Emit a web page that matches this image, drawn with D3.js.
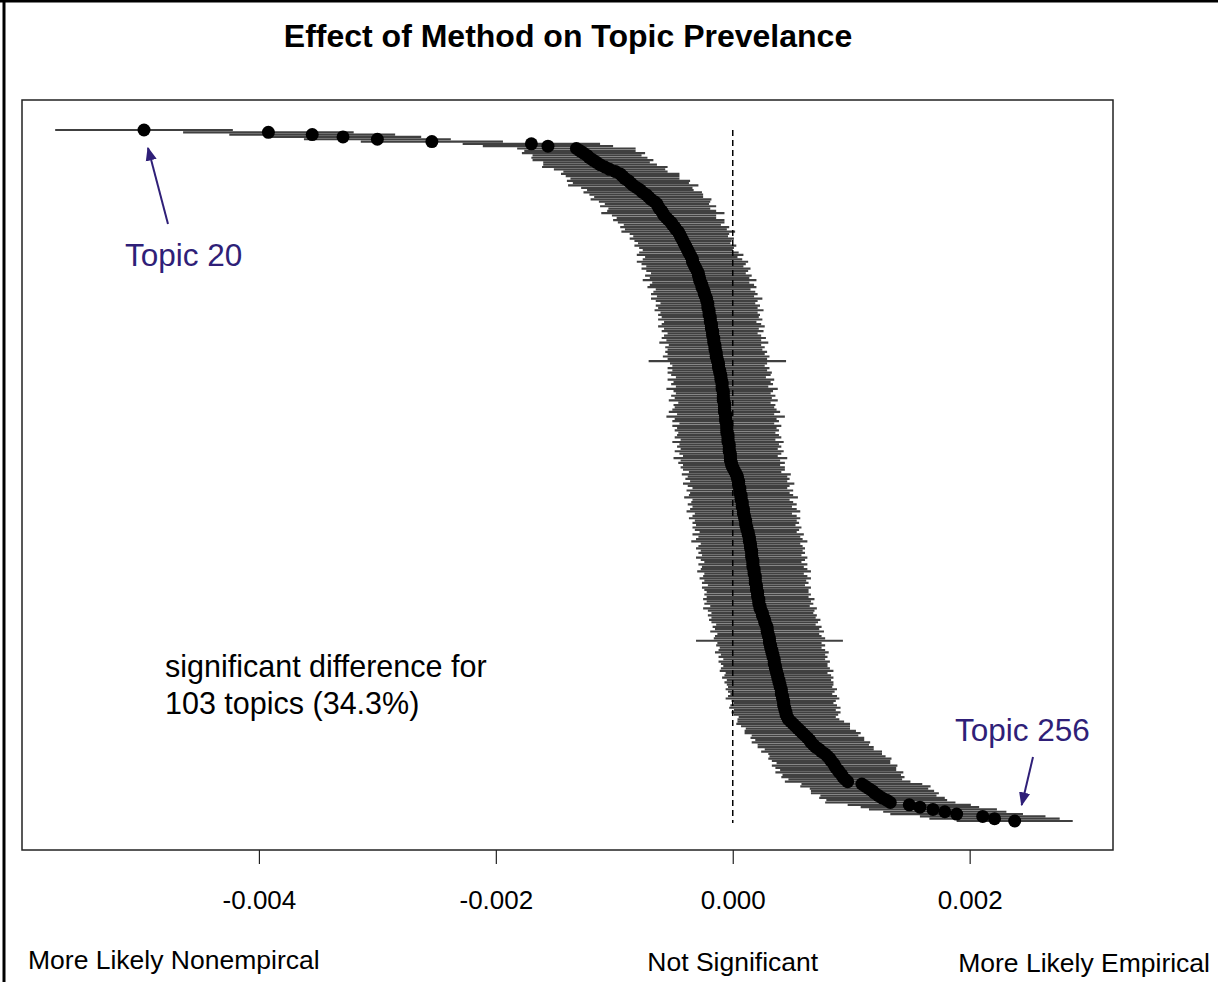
<!DOCTYPE html>
<html>
<head>
<meta charset="utf-8">
<script src="https://cdn.jsdelivr.net/npm/d3@7"></script>
<style>
  html, body { margin: 0; padding: 0; background: #fff; }
  svg { display: block; font-family: "Liberation Sans", Arial, sans-serif; }
</style>
</head>
<body>
<svg id="chart" width="1218" height="982"></svg>
<script>
// Point estimates (units of 0.001), sorted from most negative (top) to most positive (bottom); 300 topics
const estimateMilli = [
  -4.97, -3.92, -3.55, -3.29, -3.00, -2.54, -1.70, -1.56,
  -1.32, -1.29, -1.26, -1.23, -1.21, -1.18, -1.15,
  -1.12, -1.08, -1.04, -0.99, -0.95,
  -0.93, -0.91, -0.88, -0.86, -0.84, -0.81,
  -0.78, -0.76, -0.73, -0.71, -0.69, -0.66, -0.64,
  -0.63, -0.62, -0.60, -0.59, -0.58, -0.56,
  -0.54, -0.52, -0.51, -0.49, -0.48, -0.46, -0.45,
  -0.44, -0.43, -0.42, -0.41, -0.40, -0.39, -0.38, -0.37, -0.36,
  -0.35, -0.34, -0.34, -0.33, -0.32, -0.31, -0.30,
  -0.29, -0.29, -0.28,
  -0.28, -0.27, -0.26, -0.26, -0.25, -0.24, -0.24, -0.23, -0.22,
  -0.22, -0.21, -0.21, -0.21, -0.20, -0.20, -0.20, -0.19, -0.19, -0.19, -0.18, -0.18, -0.18, -0.17,
  -0.17, -0.17, -0.16, -0.16, -0.16, -0.15, -0.15, -0.15, -0.14, -0.14, -0.14, -0.13,
  -0.13, -0.12, -0.12, -0.12, -0.11, -0.11, -0.10, -0.10, -0.10, -0.09,
  -0.09, -0.09, -0.09, -0.08, -0.08, -0.08, -0.08, -0.08, -0.07, -0.07, -0.07, -0.07, -0.07,
  -0.06, -0.06, -0.06, -0.06, -0.05, -0.05, -0.05, -0.05, -0.05, -0.04, -0.04,
  -0.04, -0.04, -0.03, -0.03, -0.03, -0.03, -0.02, -0.02, -0.02, -0.02, -0.01, -0.01,
  0.00, 0.01, 0.02, 0.03, 0.04,
  0.04, 0.05, 0.05, 0.05, 0.06, 0.06, 0.06, 0.07, 0.07, 0.07, 0.08, 0.08,
  0.08, 0.09, 0.09, 0.09, 0.10, 0.10, 0.11, 0.11, 0.11, 0.12, 0.12, 0.13, 0.13, 0.14,
  0.14, 0.14, 0.15, 0.15, 0.15, 0.16, 0.16,
  0.16, 0.16, 0.17, 0.17, 0.17, 0.17, 0.18, 0.18, 0.18, 0.19, 0.19,
  0.19, 0.19, 0.20, 0.20, 0.20, 0.21, 0.21, 0.21, 0.22, 0.22, 0.22, 0.23,
  0.23, 0.24, 0.25, 0.25, 0.26, 0.27, 0.27, 0.28, 0.29,
  0.29, 0.29, 0.30, 0.30, 0.31, 0.31, 0.31, 0.32, 0.32, 0.33, 0.33, 0.34,
  0.34, 0.35, 0.35, 0.35, 0.36, 0.36, 0.37, 0.37, 0.38, 0.38, 0.39, 0.39, 0.40,
  0.40, 0.41, 0.41, 0.41, 0.42, 0.42, 0.43, 0.43, 0.43, 0.44, 0.44, 0.45, 0.45, 0.46,
  0.47, 0.49, 0.51, 0.53, 0.55, 0.57,
  0.59, 0.61, 0.63, 0.65, 0.66, 0.68,
  0.70, 0.73, 0.75, 0.78, 0.80,
  0.82, 0.83, 0.85, 0.86, 0.87, 0.89, 0.90,
  0.92, 0.93, 0.95, 0.97,
  1.09, 1.12, 1.15, 1.18, 1.20, 1.23, 1.26, 1.30, 1.33,
  1.49, 1.58, 1.69, 1.79, 1.89, 2.11, 2.21, 2.38
];

// Half-width of each 95% interval (units of 0.001), same order
const halfWidthMilli = [
  0.75, 0.72, 0.70, 0.66, 0.62, 0.60, 0.58, 0.55,
  0.50, 0.47, 0.52, 0.46, 0.49, 0.51, 0.45, 0.48, 0.53, 0.47, 0.44, 0.50, 0.48, 0.46, 0.52, 0.49, 0.55, 0.47, 0.45, 0.50, 0.48, 0.46, 0.51,
  0.47, 0.44, 0.49, 0.43, 0.46, 0.52, 0.44, 0.42, 0.47, 0.45, 0.41, 0.46, 0.43, 0.48, 0.42, 0.40, 0.44, 0.41, 0.39, 0.43, 0.40, 0.38, 0.42, 0.45, 0.39,
  0.42, 0.47, 0.44, 0.41, 0.46, 0.43, 0.40, 0.45, 0.42, 0.48, 0.41, 0.44, 0.46, 0.40, 0.43, 0.45, 0.41, 0.47, 0.43, 0.40, 0.44, 0.42, 0.46, 0.41, 0.43,
  0.41, 0.44, 0.39, 0.42, 0.45, 0.40, 0.43, 0.38, 0.41, 0.44, 0.40, 0.46, 0.39, 0.42, 0.40, 0.43, 0.41, 0.45, 0.42, 0.58,
  0.41, 0.39, 0.43, 0.40, 0.44, 0.42, 0.38, 0.45, 0.41, 0.43, 0.39, 0.47, 0.42, 0.40, 0.44, 0.41, 0.46, 0.39, 0.43, 0.42,
  0.44, 0.47, 0.41, 0.50, 0.43, 0.45, 0.40, 0.46, 0.42, 0.44, 0.41, 0.43, 0.45, 0.40, 0.47, 0.42, 0.44, 0.41, 0.46, 0.43,
  0.40, 0.48, 0.42, 0.45, 0.41, 0.44, 0.43, 0.39, 0.46, 0.42, 0.44, 0.41, 0.47, 0.43, 0.40, 0.45, 0.42, 0.44, 0.48, 0.41,
  0.43, 0.46, 0.42, 0.45, 0.48, 0.41, 0.44, 0.47, 0.43, 0.45, 0.42, 0.46, 0.44, 0.41, 0.47, 0.43, 0.45, 0.49, 0.42, 0.44,
  0.46, 0.43, 0.45, 0.42, 0.47, 0.44, 0.41, 0.46, 0.43, 0.45, 0.48, 0.42, 0.44, 0.47, 0.43, 0.45, 0.41, 0.46, 0.44, 0.43,
  0.45, 0.43, 0.47, 0.44, 0.46, 0.42, 0.48, 0.45, 0.43, 0.46, 0.44, 0.47, 0.45, 0.42, 0.46, 0.44, 0.48, 0.43, 0.45, 0.47,
  0.62, 0.44, 0.46, 0.43, 0.45, 0.48, 0.44, 0.46, 0.43, 0.47, 0.45, 0.44, 0.46, 0.48, 0.43, 0.45, 0.47, 0.44, 0.46, 0.45,
  0.44, 0.47, 0.45, 0.43, 0.46, 0.48, 0.44, 0.42, 0.45, 0.47, 0.43, 0.46, 0.44, 0.41, 0.43,
  0.45, 0.48, 0.46, 0.44, 0.47, 0.49, 0.45, 0.48, 0.46, 0.50, 0.47, 0.49, 0.46, 0.51, 0.48,
  0.49, 0.52, 0.50, 0.48, 0.53, 0.51, 0.49, 0.54, 0.50, 0.52, 0.48, 0.53, 0.51, 0.55, 0.50,
  0.52, 0.54, 0.49, 0.53, 0.51, 0.55, 0.52, 0.50, 0.54, 0.52, 0.56, 0.53, 0.55, 0.49
];

const tickValues = [-0.004, -0.002, 0.000, 0.002];
const tickLabels = ["-0.004", "-0.002", "0.000", "0.002"];
const chartTitle = "Effect of Method on Topic Prevelance";
const bottomLabels = ["More Likely Nonempircal", "Not Significant", "More Likely Empirical"];
const noteLines = ["significant difference for", "103 topics (34.3%)"];
const callouts = [
  { label: "Topic 20", row: 0 },
  { label: "Topic 256", row: 299 }
];

const svg = d3.select("#chart");
const n = Math.min(estimateMilli.length, halfWidthMilli.length);
const rows = d3.range(n).map(i => ({
  i,
  est: estimateMilli[i] / 1000,
  lo: (estimateMilli[i] - halfWidthMilli[i]) / 1000,
  hi: (estimateMilli[i] + halfWidthMilli[i]) / 1000
}));

const box = { left: 22, right: 1113, top: 100, bottom: 850 };
const x = d3.scaleLinear().domain([-0.0060, 0.00321]).range([box.left, box.right]);
const y = d3.scaleLinear().domain([0, 299]).range([130, 821]);

// page border (left and top)
svg.append("line").attr("x1", 4).attr("x2", 4).attr("y1", 0).attr("y2", 982)
  .attr("stroke", "#000").attr("stroke-width", 3);
svg.append("line").attr("x1", 0).attr("x2", 1218).attr("y1", 1).attr("y2", 1)
  .attr("stroke", "#000").attr("stroke-width", 3);

// title
svg.append("text").attr("x", 568).attr("y", 47).attr("text-anchor", "middle")
  .attr("font-size", 32).attr("font-weight", "bold").attr("fill", "#000").text(chartTitle);

// CI lines
svg.append("g").selectAll("line").data(rows).join("line")
  .attr("x1", d => x(d.lo)).attr("x2", d => x(d.hi))
  .attr("y1", d => y(d.i)).attr("y2", d => y(d.i))
  .attr("stroke", "#404040").attr("stroke-width", 2.2);

// zero line
svg.append("line").attr("x1", x(0)).attr("x2", x(0)).attr("y1", y(0)).attr("y2", y(299) + 2)
  .attr("stroke", "#000").attr("stroke-width", 1.5).attr("stroke-dasharray", "6,4");

// points
svg.append("g").selectAll("circle").data(rows).join("circle")
  .attr("cx", d => x(d.est)).attr("cy", d => y(d.i)).attr("r", 6.5).attr("fill", "#000");

// plot box
svg.append("rect").attr("x", box.left).attr("y", box.top)
  .attr("width", box.right - box.left).attr("height", box.bottom - box.top)
  .attr("fill", "none").attr("stroke", "#222").attr("stroke-width", 1.5);

// x axis (ticks only; axis line coincides with the box)
const axis = d3.axisBottom(x).tickValues(tickValues).tickSize(14).tickSizeOuter(0)
  .tickFormat((d, i) => tickLabels[i]);
const ax = svg.append("g").attr("transform", `translate(0,${box.bottom})`).call(axis);
ax.select(".domain").remove();
ax.selectAll(".tick line").attr("stroke", "#222").attr("stroke-width", 1.2);
ax.selectAll(".tick text").attr("font-size", 26).attr("fill", "#000")
  .attr("font-family", "Liberation Sans, Arial, sans-serif").attr("dy", 0).attr("y", 59);

// bottom labels
svg.append("text").attr("x", 28).attr("y", 969).attr("font-size", 26.5).attr("fill", "#000").text(bottomLabels[0]);
svg.append("text").attr("x", x(0)).attr("y", 971).attr("text-anchor", "middle").attr("font-size", 26.5).attr("fill", "#000").text(bottomLabels[1]);
svg.append("text").attr("x", 1210).attr("y", 972).attr("text-anchor", "end").attr("font-size", 26.5).attr("fill", "#000").text(bottomLabels[2]);

// note
svg.append("text").attr("x", 165).attr("y", 677).attr("font-size", 30.5).attr("fill", "#000").text(noteLines[0]);
svg.append("text").attr("x", 165).attr("y", 714).attr("font-size", 30.5).attr("fill", "#000").text(noteLines[1]);

// callouts
const purple = "#2f1f78";
const defs = svg.append("defs");
defs.append("marker").attr("id", "arr").attr("viewBox", "0 0 10 10").attr("refX", 9).attr("refY", 5)
  .attr("markerWidth", 7).attr("markerHeight", 7).attr("orient", "auto-start-reverse")
  .append("path").attr("d", "M0,1 L10,5 L0,9 Z").attr("fill", purple);

const c20 = rows[callouts[0].row];
svg.append("line").attr("x1", 168).attr("y1", 224).attr("x2", x(c20.est) + 4).attr("y2", y(c20.i) + 18)
  .attr("stroke", purple).attr("stroke-width", 2).attr("marker-end", "url(#arr)");
svg.append("text").attr("x", 125).attr("y", 266).attr("font-size", 31.5).attr("fill", purple).text(callouts[0].label);

const c256 = rows[callouts[1].row];
svg.append("line").attr("x1", 1033).attr("y1", 757).attr("x2", x(c256.est) + 7).attr("y2", y(c256.i) - 16)
  .attr("stroke", purple).attr("stroke-width", 2).attr("marker-end", "url(#arr)");
svg.append("text").attr("x", 955).attr("y", 741).attr("font-size", 31.5).attr("fill", purple).text(callouts[1].label);
</script>
</body>
</html>
